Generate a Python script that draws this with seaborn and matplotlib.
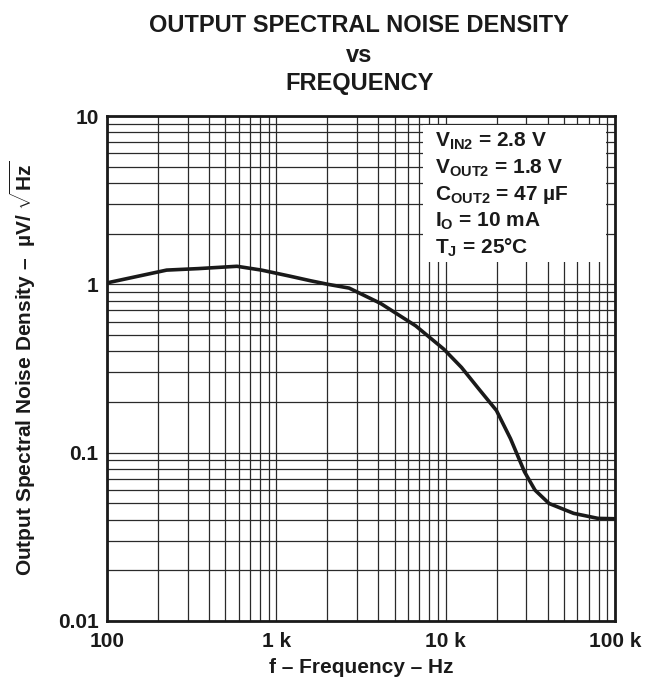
import pandas as pd
import matplotlib
matplotlib.use("Agg")
import matplotlib.pyplot as plt
import seaborn as sns
from matplotlib.patches import Rectangle
from matplotlib.ticker import NullFormatter

# Style
sns.set_theme(style="white")
plt.rcParams['font.family'] = ['Liberation Sans', 'DejaVu Sans']
plt.rcParams['font.weight'] = 'bold'
plt.rcParams['mathtext.fontset'] = 'custom'
plt.rcParams['mathtext.rm'] = 'Liberation Sans:bold'
plt.rcParams['mathtext.bf'] = 'Liberation Sans:bold'
plt.rcParams['mathtext.it'] = 'Liberation Sans:bold'

# Data
freq = [100, 225, 346, 585, 817, 1194, 1593, 2018, 2690, 4130, 6650, 9750,
        12400, 15700, 19950, 24160, 29200, 33700, 40800, 57000, 79400, 100000]
noise = [1.02, 1.215, 1.24, 1.28, 1.215, 1.12, 1.05, 1.0, 0.95, 0.77,
         0.567, 0.412, 0.321, 0.239, 0.178, 0.121, 0.077, 0.0599, 0.0499,
         0.0436, 0.0407, 0.0405]

x_ticks = [100, 1000, 10000, 100000]
x_tick_labels = ['100', '1 k', '10 k', '100 k']
y_ticks = [0.01, 0.1, 1, 10]
y_tick_labels = ['0.01', '0.1', '1', '10']

conditions = [
    r'V$_{\mathbf{IN2}}$ = 2.8 V',
    r'V$_{\mathbf{OUT2}}$ = 1.8 V',
    r'C$_{\mathbf{OUT2}}$ = 47 µF',
    r'I$_{\mathbf{O}}$ = 10 mA',
    r'T$_{\mathbf{J}}$ = 25°C',
]

df = pd.DataFrame({'freq': freq, 'noise': noise})

fig = plt.figure(figsize=(6.5, 6.77), dpi=100)
ax = fig.add_axes([107 / 650, 1 - 621 / 677, 508 / 650, 505 / 677])

sns.lineplot(data=df, x='freq', y='noise', ax=ax, color='#1a1a1a',
             linewidth=2.6, zorder=3)

ax.set_xscale('log')
ax.set_yscale('log')
ax.set_xlim(100, 100000)
ax.set_ylim(0.01, 10)

ax.set_xticks(x_ticks)
ax.set_xticklabels(x_tick_labels)
ax.set_yticks(y_ticks)
ax.set_yticklabels(y_tick_labels)
ax.xaxis.set_minor_formatter(NullFormatter())
ax.yaxis.set_minor_formatter(NullFormatter())
ax.tick_params(which='both', length=0, labelsize=15, colors='#1a1a1a')
ax.tick_params(axis='x', pad=8)
ax.tick_params(axis='y', pad=6)

ax.grid(which='both', color='#2a2a2a', linewidth=0.9)
for sp in ax.spines.values():
    sp.set_linewidth(2.0)
    sp.set_color('#1a1a1a')

ax.set_xlabel('f – Frequency – Hz', fontsize=15, fontweight='bold',
              color='#1a1a1a', labelpad=5)
ax.set_ylabel(r'Output Spectral Noise Density –  µV/ $\sqrt{\mathbf{Hz}}$',
              fontsize=15, fontweight='bold', color='#1a1a1a', labelpad=14)

# Conditions box
ax.add_patch(Rectangle((0.622, 0.711), 0.36, 0.271, transform=ax.transAxes,
                       facecolor='white', edgecolor='none', zorder=2))
for i, line in enumerate(conditions):
    ax.text(0.646, 0.939 - i * 0.0528, line, transform=ax.transAxes,
            fontsize=15, fontweight='bold', color='#1a1a1a',
            va='baseline', ha='left', zorder=4)

# Title
for txt, y in [('OUTPUT SPECTRAL NOISE DENSITY', 0.9527), ('vs', 0.9084),
               ('FREQUENCY', 0.867)]:
    fig.text(0.553, y, txt, ha='center', va='baseline', fontsize=17,
             fontweight='bold', color='#1a1a1a')

fig.savefig('out.png', dpi=100)
